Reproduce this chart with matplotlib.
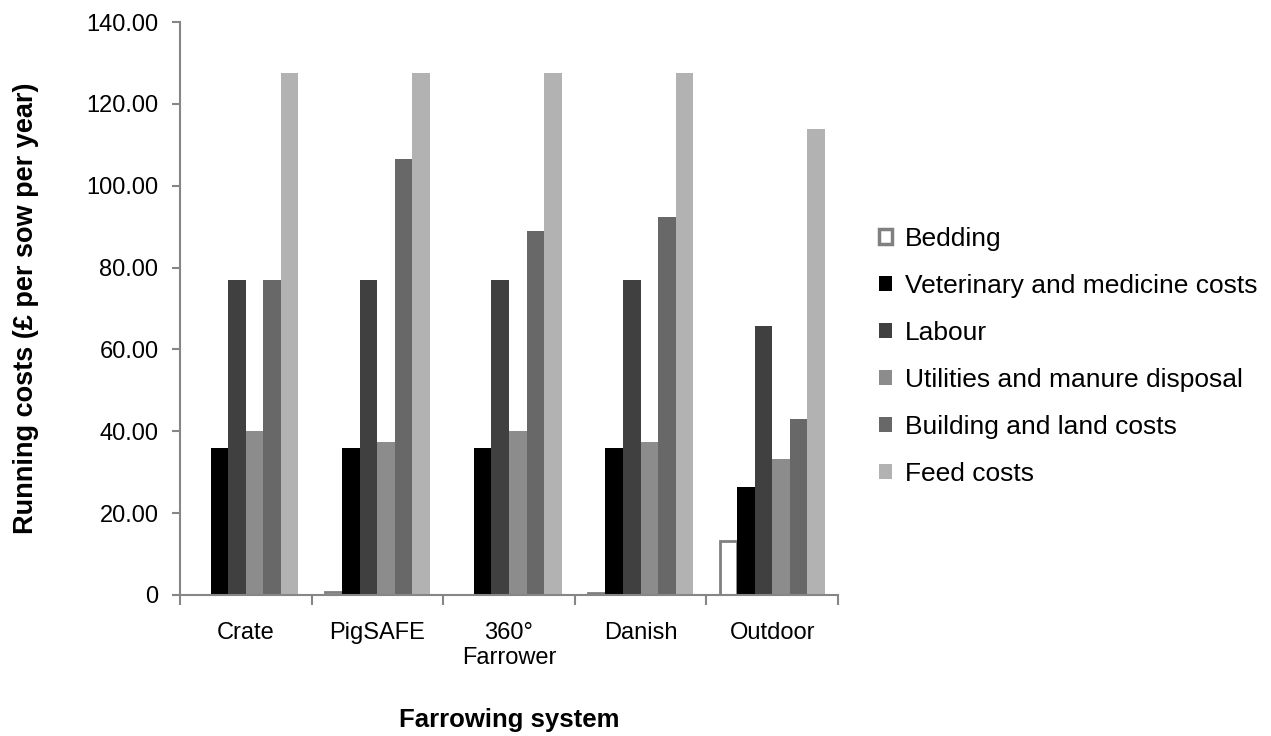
import matplotlib.pyplot as plt
from matplotlib.patches import Patch
import numpy as np

plt.rcParams['font.family'] = ['Liberation Sans', 'DejaVu Sans']

# data
systems = ['Crate', 'PigSAFE', '360°\nFarrower', 'Danish', 'Outdoor']
series = ['Bedding', 'Veterinary and medicine costs', 'Labour',
          'Utilities and manure disposal', 'Building and land costs', 'Feed costs']
bedding = [0.0, 0.8, 0.0, 0.5, 13.2]
veterinary = [36.0, 36.0, 36.0, 36.0, 26.5]
labour = [77.0, 77.0, 77.0, 77.0, 65.7]
utilities = [40.0, 37.5, 40.0, 37.5, 33.3]
building = [77.0, 106.5, 89.0, 92.3, 43.0]
feed = [127.5, 127.5, 127.5, 127.5, 113.8]

values = [bedding, veterinary, labour, utilities, building, feed]
fills = ['white', '#000000', '#404040', '#8c8c8c', '#686868', '#b2b2b2']

fig = plt.figure(figsize=(12.71, 7.36), dpi=100)
ax = fig.add_axes([0.1416, 0.1916, 0.5177, 0.7784])

x = np.arange(len(systems))
w = 0.8 / len(series)
handles = []
for i, (name, vals, col) in enumerate(zip(series, values, fills)):
    pos = x - 0.4 + w * (i + 0.5)
    if name == 'Bedding':
        lw = [0 if v == 0 else 2.0 for v in vals]
        ax.bar(pos, vals, w, color=col, edgecolor='#808080', linewidth=lw)
        handles.append(Patch(facecolor=col, edgecolor='#808080', linewidth=2.5, label=name))
    else:
        ax.bar(pos, vals, w, color=col, linewidth=0)
        handles.append(Patch(facecolor=col, linewidth=0, label=name))

ax.set_xlim(-0.5, len(systems) - 0.5)
ax.set_ylim(0, 140)
ax.set_yticks(np.arange(0, 141, 20))
ax.set_yticklabels(['0'] + ['%.2f' % v for v in np.arange(20, 141, 20)])

ax.set_xticks(x)
ax.set_xticklabels(systems)
ax.set_xticks(np.arange(-0.5, len(systems)), minor=True)
ax.tick_params(axis='x', which='major', length=0, pad=19.5, labelsize=17)
ax.tick_params(axis='x', which='minor', length=7, direction='out', color='#868686', width=1.5)
ax.tick_params(axis='y', length=6, direction='out', color='#868686', width=1.5,
               labelsize=17, pad=9.5)

for s in ['top', 'right']:
    ax.spines[s].set_visible(False)
for s in ['left', 'bottom']:
    ax.spines[s].set_color('#868686')
    ax.spines[s].set_linewidth(1.5)

ax.set_ylabel('Running costs (£ per sow per year)', fontsize=19.5, fontweight='bold', labelpad=34)
ax.set_xlabel('Farrowing system', fontsize=18.5, fontweight='bold', labelpad=28)

fig.legend(handles=handles, loc='center left', bbox_to_anchor=(0.681, 0.516),
           frameon=False, fontsize=19, handlelength=0.5, handleheight=0.5,
           handletextpad=0.5, labelspacing=0.87, borderpad=0)

plt.savefig('out.png', dpi=100)
